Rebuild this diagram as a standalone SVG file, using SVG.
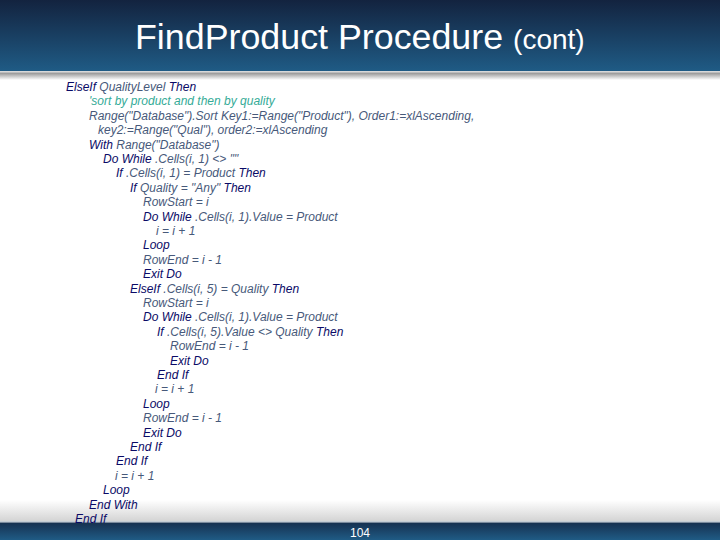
<svg xmlns="http://www.w3.org/2000/svg" width="720" height="540" viewBox="0 0 720 540">
<style>
text{font-family:"Liberation Sans",Arial,sans-serif}
.c{font-size:12px;font-style:italic;fill:#47597a}
.k{fill:#0a0a66}
.g{fill:#35ab97}
</style>
<defs>
<linearGradient id="h" x1="0" y1="0" x2="0" y2="1"><stop offset="0" stop-color="#13233f"/><stop offset="1" stop-color="#1f5b85"/></linearGradient>
<linearGradient id="f" x1="0" y1="0" x2="0" y2="1"><stop offset="0" stop-color="#16304f"/><stop offset="1" stop-color="#1f5b85"/></linearGradient>
<linearGradient id="s" x1="0" y1="0" x2="0" y2="1"><stop offset="0" stop-color="#8f8f8f"/><stop offset="1" stop-color="#ffffff"/></linearGradient>
<linearGradient id="b" x1="0" y1="0" x2="0" y2="1"><stop offset="0" stop-color="#ffffff"/><stop offset="1" stop-color="#d4d4d4"/></linearGradient>
</defs>
<rect width="720" height="540" fill="#fff"/>
<rect y="0" width="720" height="71" fill="url(#h)"/>
<rect y="71" width="720" height="1.500" fill="#d8d8d8"/>
<rect y="72.500" width="720" height="7.500" fill="url(#s)"/>
<rect y="500" width="720" height="21" fill="url(#b)"/>
<rect y="521" width="720" height="1.500" fill="#c4ccd4"/>
<rect y="522.500" width="720" height="17.500" fill="url(#f)"/>
<g id="title"><text x="135" y="49" font-size="35.800" fill="#fff">FindProduct Procedure <tspan font-size="28">(cont)</tspan></text></g>
<g id="code">
<text class="c" x="66" y="91"><tspan class="k">ElseIf</tspan> QualityLevel <tspan class="k">Then</tspan></text>
<text class="c g" x="89" y="105">'sort by product and then by quality</text>
<text class="c" x="89" y="120">Range("Database").Sort Key1:=Range("Product"), Order1:=xlAscending,</text>
<text class="c" x="98" y="134">key2:=Range("Qual"), order2:=xlAscending</text>
<text class="c" x="89" y="149"><tspan class="k">With</tspan> Range("Database")</text>
<text class="c" x="103" y="163"><tspan class="k">Do While</tspan> .Cells(i, 1) &lt;&gt; ""</text>
<text class="c" x="116" y="177"><tspan class="k">If</tspan> .Cells(i, 1) = Product <tspan class="k">Then</tspan></text>
<text class="c" x="130" y="192"><tspan class="k">If</tspan> Quality = "Any" <tspan class="k">Then</tspan></text>
<text class="c" x="143" y="206">RowStart = i</text>
<text class="c" x="143" y="221"><tspan class="k">Do While</tspan> .Cells(i, 1).Value = Product</text>
<text class="c" x="156" y="235">i = i + 1</text>
<text class="c k" x="143" y="249">Loop</text>
<text class="c" x="143" y="264">RowEnd = i - 1</text>
<text class="c k" x="143" y="278">Exit Do</text>
<text class="c" x="130" y="293"><tspan class="k">ElseIf</tspan> .Cells(i, 5) = Quality <tspan class="k">Then</tspan></text>
<text class="c" x="143" y="307">RowStart = i</text>
<text class="c" x="143" y="321"><tspan class="k">Do While</tspan> .Cells(i, 1).Value = Product</text>
<text class="c" x="157" y="336"><tspan class="k">If</tspan> .Cells(i, 5).Value &lt;&gt; Quality <tspan class="k">Then</tspan></text>
<text class="c" x="170" y="350">RowEnd = i - 1</text>
<text class="c k" x="170" y="365">Exit Do</text>
<text class="c k" x="157" y="379">End If</text>
<text class="c" x="155" y="393">i = i + 1</text>
<text class="c k" x="143" y="408">Loop</text>
<text class="c" x="143" y="422">RowEnd = i - 1</text>
<text class="c k" x="143" y="437">Exit Do</text>
<text class="c k" x="130" y="451">End If</text>
<text class="c k" x="116" y="465">End If</text>
<text class="c" x="115" y="480">i = i + 1</text>
<text class="c k" x="103" y="494">Loop</text>
<text class="c k" x="89" y="509">End With</text>
<text class="c k" x="75" y="523">End If</text>
</g>
<text x="360" y="537" font-size="12" fill="#fff" text-anchor="middle">104</text>
</svg>
